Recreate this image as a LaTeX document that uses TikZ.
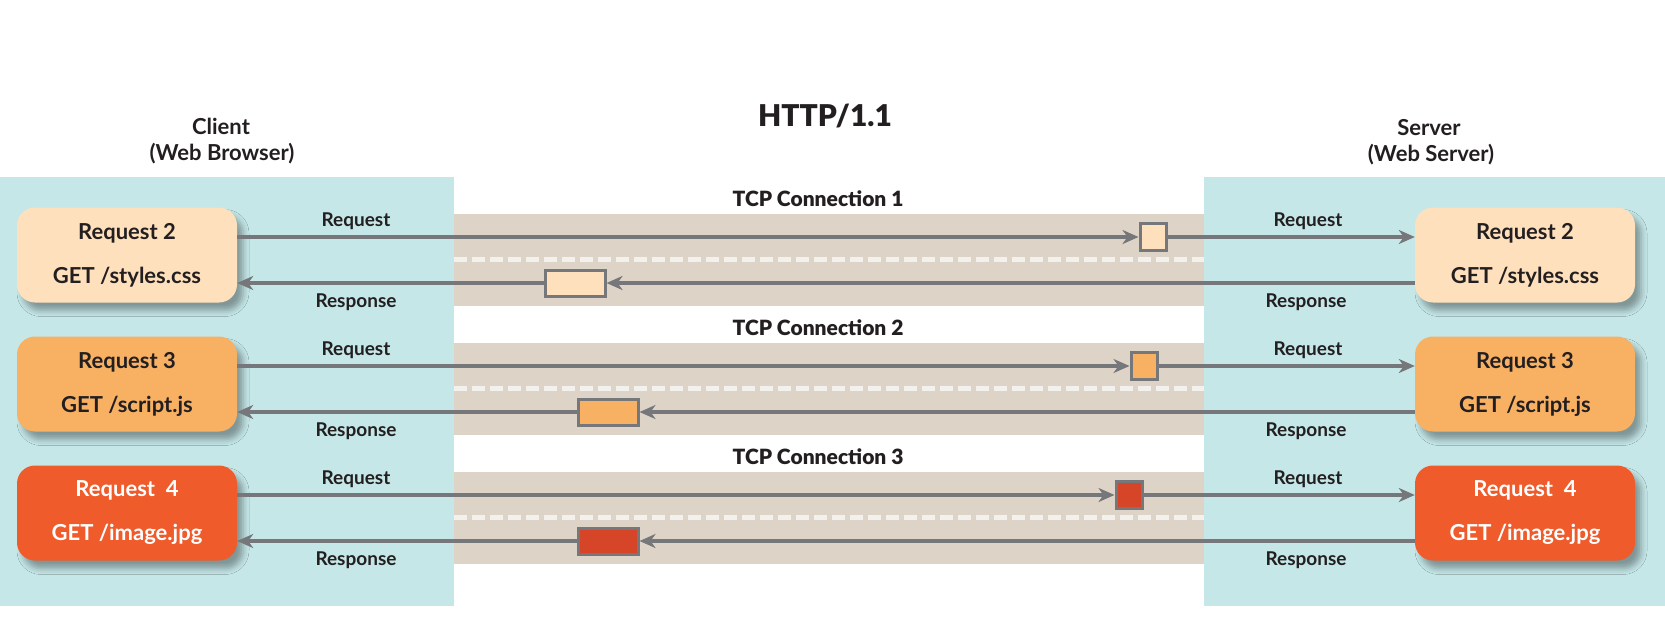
\documentclass[tikz,border=0pt]{standalone}
\usepackage{fontspec}
\setmainfont{Lato}
\newfontfamily\heavyfont{Lato Black}
\usetikzlibrary{arrows.meta,shadows.blur}
\definecolor{panelcol}{HTML}{C5E7E8}
\definecolor{bandcol}{HTML}{DDD4C7}
\definecolor{linecol}{HTML}{76777A}
\definecolor{dashcol}{HTML}{F3F1EE}
\definecolor{txtcol}{HTML}{231F20}
\definecolor{peach}{HTML}{FFE0BD}
\definecolor{apricot}{HTML}{F8B163}
\definecolor{tomato}{HTML}{EF5B2B}
\definecolor{brick}{HTML}{D64528}

\begin{document}
\begin{tikzpicture}[x=1pt,y=-1pt,
  panel/.style = {fill=panelcol},
  band/.style = {fill=bandcol},
  lane/.style = {draw=dashcol,line width=5pt,dash pattern=on 13pt off 5pt},
  reqbox/.style = {fill=#1,rounded corners=18pt,minimum width=220pt,
    minimum height=95pt,align=center,font=\fontsize{22}{44}\selectfont\bfseries,
    blur shadow={shadow xshift=6pt,shadow yshift=-8pt,shadow blur radius=6pt,
      shadow opacity=35}},
  packet/.style = {draw=linecol,line width=3pt,fill=#1,inner sep=0pt},
  msg/.style = {draw=linecol,line width=4pt,-{Stealth[length=16pt,width=14pt,inset=5pt]}},
  lbl/.style = {font=\fontsize{19}{22}\selectfont\bfseries,text=txtcol},
  head/.style = {font=\fontsize{22}{26}\selectfont\bfseries,text=txtcol},
  tcp/.style = {font=\fontsize{21}{24}\selectfont\heavyfont,text=txtcol}
  ]
  \fill[white] (0,0) rectangle (1665,627);
  \useasboundingbox (0,0) rectangle (1665,627);
  % client and server sides
  \fill[panel] (0,177) rectangle (454,606);
  \fill[panel] (1204,177) rectangle (1665,606);
  \node[font=\fontsize{30}{34}\selectfont\heavyfont,text=txtcol] (title) at (825,116) {HTTP/1.1};
  \node[head] (client) at (221,126) {Client};
  \node[head] (browser) at (222,154) {(Web Browser)};
  \node[head] (server) at (1429,128) {Server};
  \node[head] (webserver) at (1431,155) {(Web Server)};
  % one TCP connection per request
  \foreach \i/\col/\tcol/\pcol/\req/\file/\qx/\px in {
      1/peach/txtcol/peach/{Request 2}/styles.css/1153/575,
      2/apricot/txtcol/apricot/{Request 3}/script.js/1144/608,
      3/tomato/white/brick/{Request\ \ 4}/image.jpg/1129/608} {
    \pgfmathsetmacro\o{(\i-1)*129}
    \fill[band] (454,214+\o) rectangle (1204,306+\o);
    \draw[lane] (454,259+\o) -- (1204,259+\o);
    \node[tcp] (T\i) at (818,199+\o) {TCP Connection \i};
    \node[reqbox=\col,text=\tcol] (C\i) at (127,255+\o) {\req\\GET /\file};
    \node[reqbox=\col,text=\tcol] (S\i) at (1525,255+\o) {\req\\GET /\file};
    \node[packet=\pcol,minimum width=26pt,minimum height=27pt] (Q\i) at (\qx,237+\o) {};
    \node[packet=\pcol,minimum width=60pt,minimum height=26pt] (P\i) at (\px,283+\o) {};
    \draw[msg] (C\i.east |- Q\i) -- (Q\i.west);
    \draw[msg] (Q\i.east) -- (S\i.west |- Q\i);
    \draw[msg] (S\i.west |- P\i) -- (P\i.east);
    \draw[msg] (P\i.west) -- (C\i.east |- P\i);
    \node[lbl] (CQ\i) at (356,221+\o) {Request};
    \node[lbl] (CR\i) at (356,302+\o) {Response};
    \node[lbl] (SQ\i) at (1308,221+\o) {Request};
    \node[lbl] (SR\i) at (1306,302+\o) {Response};
  }
\end{tikzpicture}
\end{document}
